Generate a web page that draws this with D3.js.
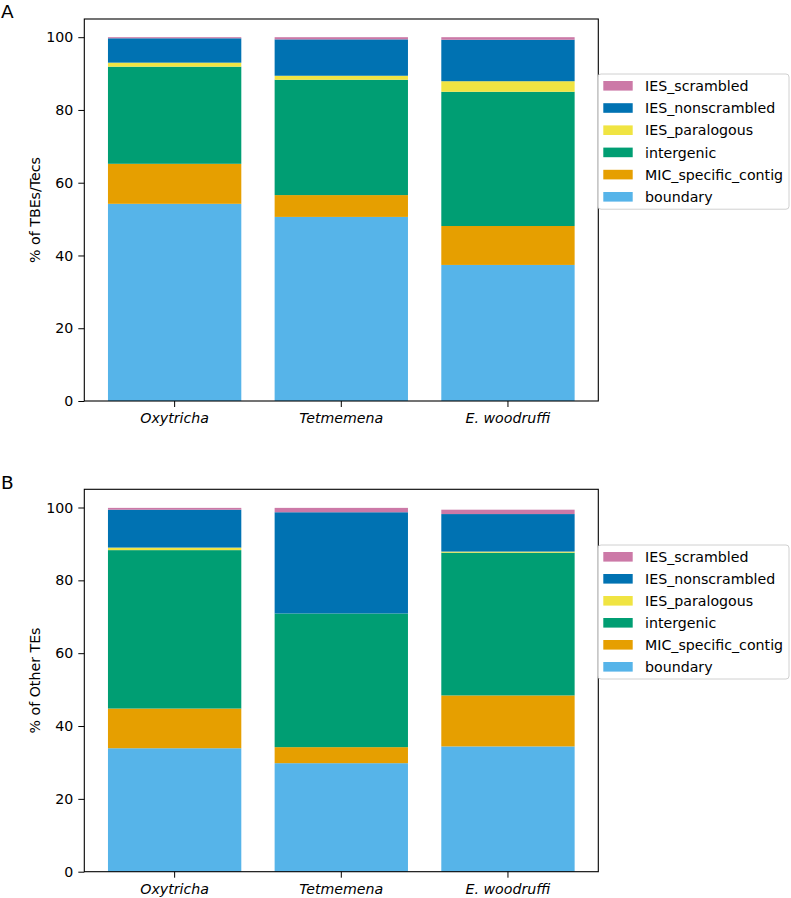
<!DOCTYPE html>
<html>
<head>
<meta charset="utf-8">
<script src="https://cdn.jsdelivr.net/npm/d3@7"></script>
<style>
html,body{margin:0;padding:0;background:#fff;}
svg{display:block;font-family:"DejaVu Sans",sans-serif;}
</style>
</head>
<body>
<svg id="chart" width="791" height="898"></svg>
<script>
const categories = ["Oxytricha", "Tetmemena", "E. woodruffi"];
const seriesNames = ["boundary", "MIC_specific_contig", "intergenic", "IES_paralogous", "IES_nonscrambled", "IES_scrambled"];
const seriesColors = ["#56B4E9", "#E69F00", "#009E73", "#F0E442", "#0072B2", "#CC79A7"];
const yTicks = [0, 20, 40, 60, 80, 100];

// Panel A: % of TBEs/Tecs
const boundaryA    = [54.2, 50.6, 37.4];
const micA         = [11.0, 6.0, 10.7];
const intergenicA  = [26.7, 31.7, 36.9];
const paralogousA  = [1.1, 1.1, 2.9];
const nonscrA      = [6.7, 10.0, 11.4];
const scrA         = [0.3, 0.6, 0.7];

// Panel B: % of Other TEs
const boundaryB    = [33.9, 29.8, 34.4];
const micB         = [10.9, 4.4, 14.0];
const intergenicB  = [43.5, 36.7, 39.2];
const paralogousB  = [0.7, 0.0, 0.3];
const nonscrB      = [10.4, 27.8, 10.3];
const scrB         = [0.5, 1.2, 1.2];

const svg = d3.select("#chart");
const left = 84.3, right = 598.3;

function panel(cfg) {
  const {top, bottom, label, letter, letterY, series, legendTop, rowH} = cfg;
  const rows = categories.map((c, i) => {
    const o = {cat: c};
    seriesNames.forEach((s, j) => o[s] = series[j][i]);
    return o;
  });
  const x = d3.scaleBand().domain(categories).range([left, right]).paddingInner(0.2).paddingOuter(0.142);
  const y = d3.scaleLinear().domain([0, 105]).range([bottom, top]);
  const stacked = d3.stack().keys(seriesNames)(rows);
  const g = svg.append("g");

  g.selectAll("g.layer").data(stacked).join("g")
    .attr("fill", (d, i) => seriesColors[i])
    .selectAll("rect").data(d => d).join("rect")
    .attr("x", d => x(d.data.cat))
    .attr("width", x.bandwidth())
    .attr("y", d => y(d[1]))
    .attr("height", d => Math.max(0, y(d[0]) - y(d[1])));

  // y axis
  const ya = g.append("g").attr("transform", `translate(${left},0)`)
    .call(d3.axisLeft(y).tickValues(yTicks).tickSize(6).tickPadding(5));
  ya.select(".domain").remove();
  ya.selectAll("text").attr("font-size", "14.2px").attr("fill", "#000").attr("font-family", "DejaVu Sans");
  ya.selectAll("line").attr("stroke", "#000");

  // x axis
  const xa = g.append("g").attr("transform", `translate(0,${bottom})`)
    .call(d3.axisBottom(x).tickSize(6).tickPadding(6));
  xa.select(".domain").remove();
  xa.selectAll("text").attr("font-size", "14.2px").attr("fill", "#000")
    .attr("font-style", "italic").attr("font-family", "DejaVu Sans");
  xa.selectAll("line").attr("stroke", "#000");

  // frame
  g.append("rect").attr("x", left).attr("y", top)
    .attr("width", right - left).attr("height", bottom - top)
    .attr("fill", "none").attr("stroke", "#000").attr("stroke-width", 1.1);

  // y label
  g.append("text")
    .attr("transform", `translate(40,${(top + bottom) / 2}) rotate(-90)`)
    .attr("text-anchor", "middle")
    .attr("font-size", "14.2px")
    .text(label);

  // panel letter
  g.append("text").attr("x", 1).attr("y", letterY)
    .attr("font-size", "18.5px").text(letter);

  // legend
  const lg = g.append("g");
  const lx = 598, lw = 191;
  const lh = rowH * 6 + 2;
  lg.append("rect").attr("x", lx).attr("y", legendTop)
    .attr("width", lw).attr("height", lh).attr("rx", 3)
    .attr("fill", "#fff").attr("fill-opacity", 0.85)
    .attr("stroke", "#d0d0d0").attr("stroke-width", 1);
  const order = seriesNames.map((s, i) => i).reverse();
  order.forEach((si, k) => {
    const cy = legendTop + 11.8 + k * rowH;
    lg.append("rect").attr("x", 603.3).attr("y", cy - 4.8)
      .attr("width", 29.4).attr("height", 9.6).attr("fill", seriesColors[si]);
    lg.append("text").attr("x", 645).attr("y", cy).attr("dy", "0.36em")
      .attr("font-size", "14.2px").text(seriesNames[si]);
  });
}

panel({top: 19, bottom: 401, label: "% of TBEs/Tecs", letter: "A", letterY: 17.5,
  series: [boundaryA, micA, intergenicA, paralogousA, nonscrA, scrA], legendTop: 74, rowH: 22.2});
panel({top: 489.3, bottom: 871.7, label: "% of Other TEs", letter: "B", letterY: 489,
  series: [boundaryB, micB, intergenicB, paralogousB, nonscrB, scrB], legendTop: 545, rowH: 22.0});
</script>
</body>
</html>
